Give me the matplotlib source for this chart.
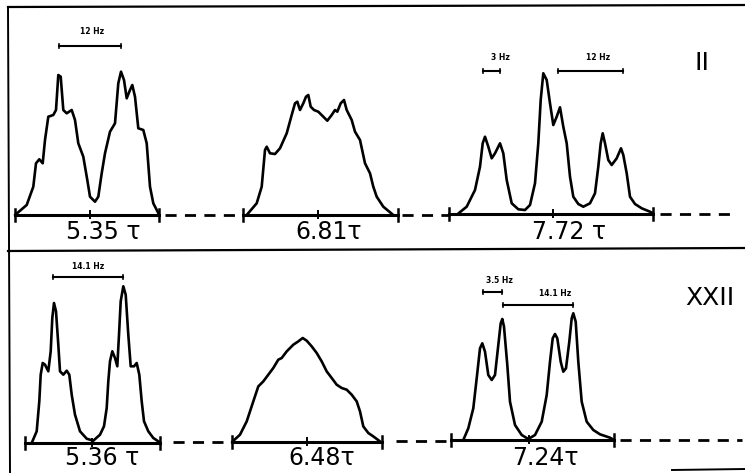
import numpy as np
import matplotlib.pyplot as plt

# -- traces: x along the baseline, height above it (pixels)
top1_x = [0, 11.7, 18.3, 21, 24.3, 27.7, 30, 33.3, 38.3, 41, 43.3, 45.7, 48.3, 51.7, 56.7, 60, 63.3, 68.3,
          72.3, 75, 80, 83.3, 86.7, 90, 95, 100, 103.3, 106, 109, 111.7, 115, 117.3, 120, 123.3, 128.3,
          131.7, 135, 138.3, 144.3]
top1_y = [0, 10, 28.3, 51.7, 55.7, 51.7, 75, 98.3, 100, 105, 140, 138.3, 105, 101.7, 105, 95, 71.7, 58.3,
          35, 18.3, 13.3, 18.3, 41.7, 61.7, 83.3, 91.7, 131.7, 143.3, 135, 116.7, 125, 130, 118.3, 86.7, 85,
          71.7, 28.3, 11.7, 0]

top2_x = [3.7, 13.7, 18.7, 22, 23.7, 27, 32, 37, 43.7, 48.7, 52, 54.3, 57, 60.3, 63, 65.3, 67.7, 71, 75.3,
          80.3, 84.3, 88.7, 92, 94.3, 97.7, 101, 103.7, 108.7, 112, 117, 122, 127, 130.3, 133.7, 140.3, 150.3]
top2_y = [0, 11.7, 28.3, 65, 68.3, 61.7, 61, 66.7, 81.7, 100, 111.7, 113.3, 105, 111.7, 118.3, 120, 108.3,
          105, 103.3, 98.3, 94.3, 100, 105, 103.3, 111.7, 115, 105, 95, 83.3, 75, 51.7, 41.7, 28.3, 18.3,
          8.3, 0]

top3_x = [9.3, 17.7, 26, 31, 33.7, 36, 39.3, 42.7, 46, 51, 54.3, 57.7, 62.7, 69.3, 76, 81, 86, 89.3, 91.7,
          94.3, 97.7, 101, 104.3, 107.7, 111, 114.3, 117.7, 121, 124.3, 129.3, 134.3, 141, 146, 149.3,
          151.7, 153.7, 156, 159.3, 162.7, 167.7, 172, 174.3, 177.7, 181, 186, 192.7, 201, 204]
top3_y = [0, 6.8, 23.5, 46.8, 70.2, 76.8, 66.8, 55.2, 60.2, 70.2, 60.2, 33.5, 10.2, 4.2, 3.5, 8.5, 30.2,
          70.2, 113.5, 140.2, 133.5, 110.2, 88.5, 96.8, 106.2, 86.8, 70.2, 36.8, 16.8, 9.5, 6.8, 10.2,
          20.2, 46.8, 70.2, 80.2, 70.2, 53.5, 48.5, 55.2, 65.2, 58.5, 40.2, 16.8, 9.5, 5.2, 1.8, 0]

bot1_x = [6.7, 11.7, 14.3, 15.7, 17.7, 20, 23.3, 25.7, 27.3, 29, 31, 33.3, 35, 38.3, 41.7, 44.3, 46.7, 50,
          55, 61.7, 68.3, 75, 79, 81.7, 83.3, 85, 87.3, 90, 92.3, 94, 95.7, 98.3, 100.7, 103.3, 105.7,
          109, 111.7, 114.3, 116.7, 119, 123.3, 128.3, 134.3]
bot1_y = [0, 11.7, 41.7, 68.3, 80, 78.3, 71.7, 91.7, 125, 140, 131.7, 98.3, 71.7, 68.3, 72.3, 68.3, 48.3,
          28.3, 11.7, 4.3, 2.3, 8.3, 16.7, 35, 61.7, 81.7, 91.7, 85, 76.7, 108.3, 141.7, 156.7, 148.3,
          108.3, 76.7, 76.7, 80, 68.3, 41.7, 21.7, 11.7, 5, 1]

bot2_x = [0, 8, 14.7, 21.3, 26.3, 31.3, 36.3, 41.3, 46.3, 49.7, 54.7, 61.3, 66.3, 70.7, 74.7, 79.7, 84.7,
          89.7, 94.7, 99.7, 104.7, 109.7, 114.7, 119.7, 124.7, 128, 131.3, 136.3, 141.3, 148]
bot2_y = [0, 7.3, 20.6, 40.6, 55.6, 60.6, 67.3, 74, 82.3, 84, 90.6, 97.3, 100.6, 104, 101.3, 95.6, 89,
          80.6, 70.6, 64, 57.3, 54, 52.3, 47.3, 40.6, 30.6, 15.6, 9, 5.6, 0.6]

bot3_x = [12.3, 17.3, 22.3, 25.7, 29, 31.3, 34, 37.3, 40.7, 44, 47.3, 49.7, 51.3, 53, 56.3, 59, 64, 70.7,
          77.3, 84, 90.7, 95.7, 99, 101.7, 104, 106.3, 109.7, 112.3, 115, 118.3, 120.7, 122.3, 124.7,
          127.3, 130.7, 135.7, 142.3, 149, 159, 163]
bot3_y = [0, 11.7, 31.7, 61.7, 91.7, 96.7, 88.3, 65, 60, 65, 95, 116.7, 121, 113.3, 75, 38.3, 15, 5, 1, 5,
          18.3, 45, 78.3, 101.7, 106, 101.7, 78.3, 68.3, 71.7, 98.3, 121.7, 126.7, 118.3, 78.3, 38.3,
          18.3, 10, 5.7, 2.3, 0]

shifts = ['5.35 τ', '6.81τ', '7.72 τ', '5.36 τ', '6.48τ', '7.24τ']
compounds = ['II', 'XXII']
splittings = ['12 Hz', '3 Hz', '12 Hz', '14.1 Hz', '3.5 Hz', '14.1 Hz']

# -- layout in picture pixels
traces = [(top1_x, top1_y), (top2_x, top2_y), (top3_x, top3_y),
          (bot1_x, bot1_y), (bot2_x, bot2_y), (bot3_x, bot3_y)]
left = [15, 243, 449, 25, 232, 451]
base = [215, 215, 213.5, 443, 442, 440]
length = [144, 155, 204, 135, 150, 163]
mid = [75, 75, 104, 67, 75, 78]
label_x = [103, 329, 569, 102, 322, 545]
dash_runs = [(165, 240, 215), (402, 450, 215), (660, 736, 213.5),
             (173, 230, 442), (396, 450, 441), (620, 742, 440)]
bar_runs = [(59, 121, 46), (483, 500, 71), (558, 623, 71),
            (53, 123, 277), (483, 502, 292), (503, 573, 305)]
bar_text = [(92, 32), (500, 57), (598, 57), (88, 266), (499, 280), (555, 293)]

fig = plt.figure(figsize=(7.45, 4.73), dpi=100)
ax = fig.add_axes([0, 0, 1, 1])
ax.set_xlim(0, 745)
ax.set_ylim(473, 0)
ax.axis('off')

# frame
ax.plot([8, 745], [7, 5], color='black', lw=1.6)
ax.plot([8, 745], [251, 248], color='black', lw=1.6)
ax.plot([8, 10], [7, 473], color='black', lw=1.4)
ax.plot([672, 745], [470, 469], color='black', lw=1.4)

for i, (tx, ty) in enumerate(traces):
    x0, y0 = left[i], base[i]
    ax.plot(np.array(tx) + x0, y0 - np.array(ty), color='black', lw=1.9,
            solid_joinstyle='round', solid_capstyle='round')
    ax.plot([x0, x0 + length[i]], [y0, y0], color='black', lw=2.2)
    for xe in (x0, x0 + length[i]):
        ax.plot([xe, xe], [y0 - 6, y0 + 6], color='black', lw=1.8)
    ax.plot([x0 + mid[i]] * 2, [y0 - 4, y0 + 3], color='black', lw=1.4)
    ty_lab = 232 if i < 3 else 458
    ax.text(label_x[i], ty_lab, shifts[i], ha='center', va='center', fontsize=17)

for xa, xb, y in dash_runs:
    ax.plot([xa, xb], [y, y], color='black', lw=2, dashes=(4, 3))

for (xa, xb, y), (tx, ty), s in zip(bar_runs, bar_text, splittings):
    ax.plot([xa, xb], [y, y], color='black', lw=1.5)
    ax.plot([xa, xa], [y - 2, y + 2], color='black', lw=1.2)
    ax.plot([xb, xb], [y - 2, y + 2], color='black', lw=1.2)
    ax.text(tx, ty, s, ha='center', va='center', fontsize=5.5, fontweight='bold')

ax.text(702, 63, compounds[0], ha='center', va='center', fontsize=18)
ax.text(710, 298, compounds[1], ha='center', va='center', fontsize=18)

plt.savefig('out.png', dpi=100)
plt.close()
